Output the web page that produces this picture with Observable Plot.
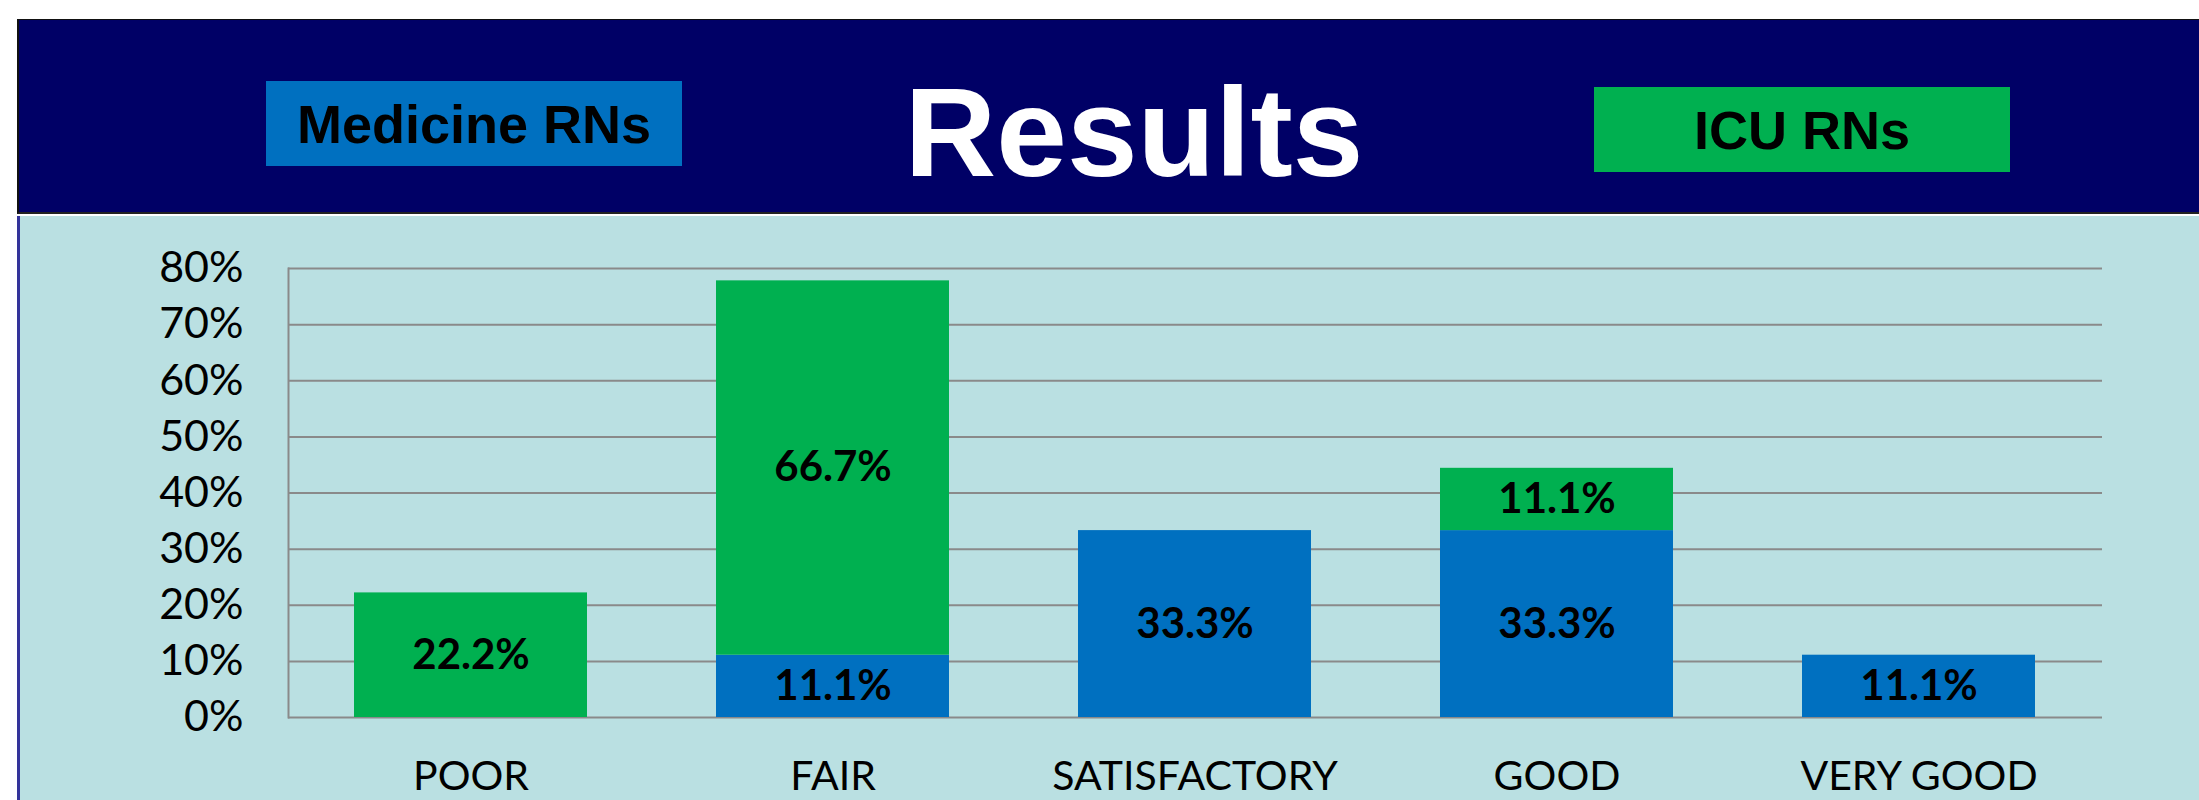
<!DOCTYPE html>
<html>
<head>
<meta charset="utf-8">
<script src="https://cdn.jsdelivr.net/npm/d3@7"></script>
<script src="https://cdn.jsdelivr.net/npm/@observablehq/plot@0.6"></script>
<style>
  html, body { margin: 0; padding: 0; background: #ffffff; width: 2199px; height: 800px; overflow: hidden; position: relative; }
  #header { position: absolute; left: 17px; top: 19px; width: 2182px; height: 195px; background: #000066; border-top: 1px solid #111; border-bottom: 2px solid #222; box-sizing: border-box; border-left: 2px solid #111; }
  #panel { position: absolute; left: 17px; top: 216px; width: 2182px; height: 584px; background: #BAE0E2; border-left: 3px solid #33339a; box-sizing: border-box; }
  #title { position: absolute; top: 69px; left: 1134px; transform: translateX(-50%); font-family: "Liberation Sans", Arial, sans-serif; font-weight: bold; font-size: 127px; line-height: 1; color: #ffffff; white-space: nowrap; }
  .legbox { position: absolute; display: flex; align-items: center; justify-content: center; font-family: "Liberation Sans", Arial, sans-serif; font-weight: bold; font-size: 54px; line-height: 1; color: #000; white-space: nowrap; }
  #chart { position: absolute; left: 0; top: 216px; }
</style>
</head>
<body>
<div id="header"></div>
<div id="panel"></div>
<div id="title">Results</div>
<div id="leg0" class="legbox"></div>
<div id="leg1" class="legbox"></div>
<div id="chart"></div>
<script>
// ---- data ----
const ratings = ["POOR", "FAIR", "SATISFACTORY", "GOOD", "VERY GOOD"];
const groups = ["Medicine RNs", "ICU RNs"];
const medicineValues = [0, 11.1, 33.3, 33.3, 11.1];
const icuValues = [22.2, 66.7, 0, 11.1, 0];
const groupColors = ["#0070C0", "#00B050"];
const yTicks = [0, 10, 20, 30, 40, 50, 60, 70, 80];

// tidy table built from arrays
const table = [];
ratings.forEach((r, i) => {
  table.push({rating: r, group: groups[0], value: medicineValues[i]});
  table.push({rating: r, group: groups[1], value: icuValues[i]});
});

// legend boxes in header
const legPos = [
  {left: 266, top: 81, width: 416, height: 85},
  {left: 1594, top: 87, width: 416, height: 85}
];
groups.forEach((g, i) => {
  const el = document.getElementById("leg" + i);
  el.textContent = g;
  el.style.background = groupColors[i];
  el.style.left = legPos[i].left + "px";
  el.style.top = legPos[i].top + "px";
  el.style.width = legPos[i].width + "px";
  el.style.height = legPos[i].height + "px";
});

const chart = Plot.plot({
  width: 2199,
  height: 584,
  marginLeft: 288,
  marginRight: 97,
  marginTop: 52,
  marginBottom: 83,
  style: {background: "transparent", fontFamily: "Lato, 'Open Sans', sans-serif", color: "#000"},
  x: {domain: ratings, paddingInner: 0.355, paddingOuter: 0.1775, label: null},
  y: {domain: [0, 80], label: null},
  color: {domain: groups, range: groupColors},
  marks: [
    Plot.ruleY(yTicks, {stroke: "#8a8a8a", strokeWidth: 2}),
    Plot.frame({anchor: "left", stroke: "#8a8a8a", strokeWidth: 2}),
    Plot.barY(table, {x: "rating", y: "value", z: "group", fill: "group"}),
    Plot.text(table, Plot.stackY({
      x: "rating", y: "value", z: "group",
      filter: d => d.value > 0,
      text: d => d.value.toFixed(1) + "%",
      fontSize: 42, fontWeight: "bold", fill: "#000"
    })),
    Plot.axisY({ticks: yTicks, tickSize: 0, tickPadding: 45, tickFormat: d => d + "%", fontSize: 43, label: null}),
    Plot.axisX({tickSize: 0, tickPadding: 43, fontSize: 41, label: null})
  ]
});
document.getElementById("chart").appendChild(chart);
</script>
</body>
</html>
